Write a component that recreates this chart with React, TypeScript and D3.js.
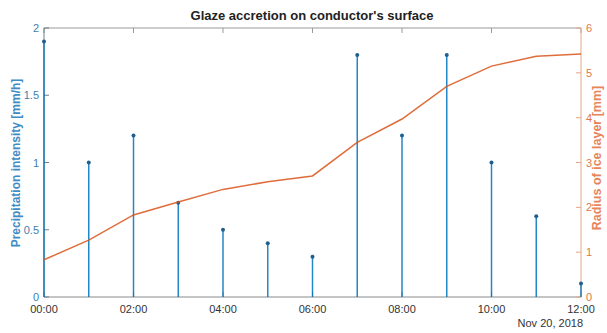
import React from "react";
import * as d3 from "d3";

const hours = [0, 1, 2, 3, 4, 5, 6, 7, 8, 9, 10, 11, 12];
const precip = [1.9, 1.0, 1.2, 0.7, 0.5, 0.4, 0.3, 1.8, 1.2, 1.8, 1.0, 0.6, 0.1];
const radius = [0.83, 1.27, 1.83, 2.12, 2.4, 2.57, 2.7, 3.45, 3.97, 4.7, 5.15, 5.37, 5.42];
const xTicks = [0, 2, 4, 6, 8, 10, 12];
const xTickLabels = ["00:00", "02:00", "04:00", "06:00", "08:00", "10:00", "12:00"];
const leftTicks = [0, 0.5, 1, 1.5, 2];
const rightTicks = [0, 1, 2, 3, 4, 5, 6];

const BLUE = "#0072BD";
const ORANGE = "#D95319";
const font = "Liberation Sans, Arial, sans-serif";

const App = () => {
  const W = 607;
  const H = 333;
  const left = 44;
  const right = 581;
  const top = 28;
  const bottom = 297;

  const x = d3.scaleLinear().domain([0, 12]).range([left, right]);
  const yL = d3.scaleLinear().domain([0, 2]).range([bottom, top]);
  const yR = d3.scaleLinear().domain([0, 6]).range([bottom, top]);

  const line = d3
    .line<number>()
    .x((_, i) => x(hours[i]))
    .y((d) => yR(d));

  return (
    <svg
      width={W}
      height={H}
      style={{ position: "absolute", left: 0, top: 0, background: "#fff" }}
      fontFamily={font}
    >
      {/* box */}
      <line x1={left} x2={right} y1={top} y2={top} stroke="#9a9a9a" strokeWidth={1} />
      <line x1={left} x2={right} y1={bottom} y2={bottom} stroke="#8a8a8a" strokeWidth={1} />

      {/* x ticks bottom + top */}
      {xTicks.map((t, i) => (
        <g key={t}>
          <line x1={x(t)} x2={x(t)} y1={bottom} y2={bottom - 5} stroke="#8a8a8a" />
          <line x1={x(t)} x2={x(t)} y1={top} y2={top + 5} stroke="#9a9a9a" />
          <text x={x(t)} y={bottom + 16} textAnchor="middle" fontSize={11} fill="#333">
            {xTickLabels[i]}
          </text>
        </g>
      ))}
      <text x={right + 2} y={327} textAnchor="end" fontSize={11} fill="#333">
        Nov 20, 2018
      </text>

      {/* left axis */}
      <line x1={left} x2={left} y1={top} y2={bottom} stroke="#6b7f8f" strokeWidth={1} />
      {leftTicks.map((t) => (
        <g key={t}>
          <line x1={left} x2={left + 5} y1={yL(t)} y2={yL(t)} stroke="#6b7f8f" />
          <text x={left - 5} y={yL(t) + 4} textAnchor="end" fontSize={11} fill="#3d7fb0">
            {t}
          </text>
        </g>
      ))}
      <text
        transform={`translate(20,163) rotate(-90)`}
        textAnchor="middle"
        fontSize={12}
        fontWeight="bold"
        fill="#3f8cc4"
      >
        Precipitation intensity [mm/h]
      </text>

      {/* right axis */}
      <line x1={right} x2={right} y1={top} y2={bottom} stroke="#e4a688" strokeWidth={1} />
      {rightTicks.map((t) => (
        <g key={t}>
          <line x1={right} x2={right - 5} y1={yR(t)} y2={yR(t)} stroke="#e4a688" />
          <text x={right + 5} y={yR(t) + 4} textAnchor="start" fontSize={11} fill="#e0784a">
            {t}
          </text>
        </g>
      ))}
      <text
        transform={`translate(601,158) rotate(-90)`}
        textAnchor="middle"
        fontSize={12.5}
        fontWeight="bold"
        fill="#e8845a"
      >
        Radius of ice layer [mm]
      </text>

      {/* stems */}
      {precip.map((v, i) => (
        <g key={i}>
          <line
            x1={x(hours[i])}
            x2={x(hours[i])}
            y1={yL(0)}
            y2={yL(v)}
            stroke={BLUE}
            strokeWidth={1.5}
            opacity={0.85}
          />
          <circle cx={x(hours[i])} cy={yL(v)} r={2} fill="#1f5f8f" />
        </g>
      ))}

      {/* radius line */}
      <path d={line(radius) || ""} fill="none" stroke={ORANGE} strokeWidth={1.5} opacity={0.85} />

      {/* title */}
      <text x={312} y={20} textAnchor="middle" fontSize={13} fontWeight="bold" fill="#222">
        Glaze accretion on conductor's surface
      </text>
    </svg>
  );
};

export default App;
